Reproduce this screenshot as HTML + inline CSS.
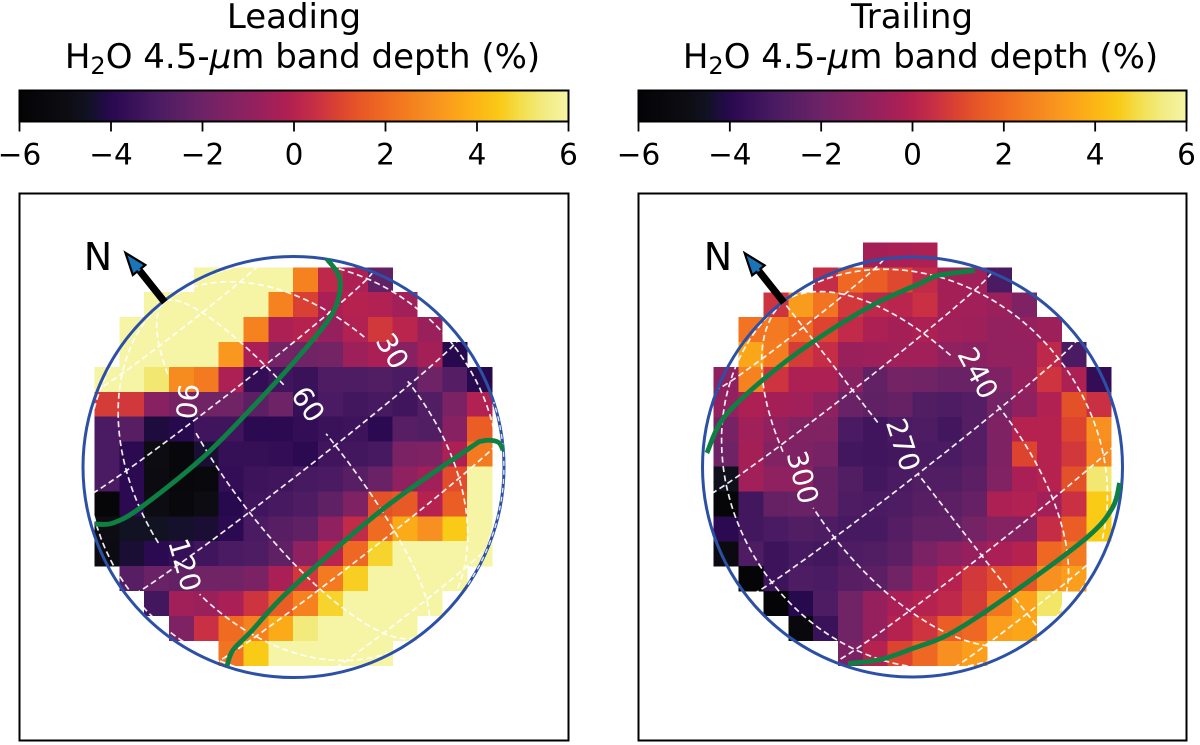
<!DOCTYPE html>
<html lang="en">
<head>
<meta charset="utf-8">
<title>H2O 4.5-micron band depth maps</title>
<style>
html,body{margin:0;padding:0;background:#fff;width:1200px;height:745px;overflow:hidden}
svg{display:block}
text{font-family:"DejaVu Sans","Liberation Sans",sans-serif}
</style>
</head>
<body>
<svg id="fig" width="1200" height="745" viewBox="0 0 1200 745" xmlns="http://www.w3.org/2000/svg">
  <rect x="0" y="0" width="1200" height="745" fill="#fff"/>
  <text x="294" y="28" font-size="34" text-anchor="middle" fill="#000">Leading</text>
  <text x="302.5" y="68" font-size="34" text-anchor="middle" fill="#000">H<tspan font-size="24" dy="6">2</tspan><tspan dy="-6">O 4.5-</tspan><tspan font-style="italic">μ</tspan>m band depth (%)</text>
  <text x="912" y="28" font-size="34" text-anchor="middle" fill="#000">Trailing</text>
  <text x="920.5" y="68" font-size="34" text-anchor="middle" fill="#000">H<tspan font-size="24" dy="6">2</tspan><tspan dy="-6">O 4.5-</tspan><tspan font-style="italic">μ</tspan>m band depth (%)</text>
  <defs>
    <linearGradient id="cbar-gradient" x1="0" x2="1" y1="0" y2="0"></linearGradient>
  </defs>
  <g id="leading-cbar"></g>
  <g id="trailing-cbar"></g>
  <g id="leading-panel"></g>
  <g id="trailing-panel"></g>
</svg>
<script>
// ---- colour scale ----
const cmapValues = [-6,-5,-4.5,-4.1,-3.9,-3,-2,-1,-0.3,0,0.5,1,1.5,2,2.5,3,3.5,4,4.5,5,5.5,6];
const cmapColors = ['#040406','#0d0c12','#111222','#230a48','#2c0a52','#4a1b62','#6d2366','#8f2160','#a91f56','#b5224f','#c93044','#dc4430','#e85a25','#f06b22','#f47e1f','#f79020','#fba21a','#fcb615','#f9ca16','#f3e050','#f2ec85','#f6f4a5'];
const colorbarTicks = [-6,-4,-2,0,2,4,6];

// ---- band depth per cell (%), null = no data ----
const leadingCells = [
[null,null,null,null,6,6,6,6,2.6,0.2,-0.2,-2.3,null,null,null,null],
[null,null,6,6,6,6,6,2.6,0.9,-0.3,0,-0.1,-0.5,null,null,null],
[null,6,6,6,6,6,2.6,-0.2,0,-0.8,-0.1,0.7,0.1,-0.7,null,null],
[null,6,6,6,6,3.2,-0.3,-1.8,-1.9,-1.8,-0.6,-0.3,-1.2,-0.4,-4,null],
[6,6,5.3,2.9,2.4,-0.2,-3.7,-3.3,-3.5,-2.9,-2.9,-2.8,-3,-2,-2.7,-4],
[0.8,0.7,-1.2,-1.7,-1.9,-1.9,-2.5,-2,-3.6,-3,-3.2,-3.1,-3.3,-2.8,-1.6,-0.1],
[-3,-2.6,-4.2,-4,-3.3,-3.3,-3.9,-3.9,-3.7,-3.5,-3.4,-3.9,-2.6,-2.8,-1.2,1.6],
[-3,-3.9,-5,-5.6,-4.3,-3.6,-3.6,-3.7,-3.9,-3.3,-3.2,-3.1,-1.6,-1.5,-0.2,2.4],
[-3,-3.9,-5.1,-5.6,-5.4,-3.7,-3.4,-3.3,-3.1,-3,-2.6,-2.1,-1,-0.5,1.2,6],
[-5.8,-3.9,-5,-5.5,-5,-4,-3.3,-3.1,-2.9,-2.4,-1.5,1.3,1.5,0,1.6,6],
[-5,-4.5,-4.5,-4.4,-4.3,-3.9,-3,-2.6,-2.4,-1,0.3,2,3.7,3,4.5,6],
[-5.1,-4.3,-3.9,-3.6,-3.3,-3,-2.9,-2.4,-1,0.1,1.9,4.7,6,6,6,6],
[null,-2.6,-2.1,-2.3,-1.9,-1.9,-1.6,-0.3,0.7,2.4,4.6,6,6,6,6,null],
[null,null,-3.2,-0.5,-0.7,-0.3,0.6,1.6,2.6,4.7,6,6,6,6,null,null],
[null,null,null,-1.5,0.5,2,2.6,3.7,5.4,6,6,6,6,null,null,null],
[null,null,null,null,null,2.2,4.5,6,6,6,6,6,null,null,null,null]
];
const trailingCells = [
[null,null,null,null,null,null,-0.4,-0.3,-0.2,null,null,null,null,null,null,null],
[null,null,null,null,0.4,1.9,1.6,1.1,0.3,-0.4,-0.5,-3,null,null,null,null],
[null,null,0.6,3.3,2.2,0.7,0.2,0.1,0.5,-0.4,-0.5,-0.7,-1.5,null,null,null],
[null,2.2,2.4,1.9,1,0.3,-0.2,-0.4,-0.2,-0.5,-0.6,-0.9,-0.8,-0.6,null,null],
[null,3.6,2.5,0.8,0.4,-0.7,-0.6,-0.5,-0.5,-1,-1.1,-0.9,-0.9,0.2,-3,null],
[-1,2.6,0.6,-0.2,-0.2,-1.2,-2.3,-1.8,-1.9,-2.1,-2.1,-1.5,-0.8,0.6,-0.2,-3.7],
[-0.9,-0.2,-0.4,-0.5,-1,-2.1,-2.4,-2.2,-2.8,-2.9,-2.7,-1.8,-1,-0.1,1.3,0.5],
[-1.7,-0.5,-1,-1.4,-1.4,-3,-3.3,-3,-2.9,-3.2,-2.7,-1.5,0,0,1,3],
[-2,-0.4,-1.4,-1.5,-1.7,-3.2,-3.3,-3.2,-3,-3,-2.7,-1.5,1,0,0.7,2.8],
[-4.7,-0.5,-1,-1,-2.2,-2.8,-3.2,-3,-2.8,-2.8,-2.5,-1.4,-0.3,0,1.3,5.3],
[-5.8,-3.2,-2.2,-2.1,-2.2,-2.9,-3,-2.9,-2.6,-2.5,-2.2,-0.2,-0.1,-0.5,0.5,4.5],
[-3.9,-3.2,-3,-2.8,-2.9,-3.1,-3.1,-2.7,-2.3,-2.3,-1.8,-1.3,-1.2,0.4,1.6,4.5],
[-5.2,-2.9,-3.4,-3.1,-3.2,-2.9,-2.8,-2.5,-1.6,-1.1,-0.8,-0.3,0,1.9,2.4,null],
[null,-5.9,-3.4,-2.9,-3,-2.6,-2.5,-1.9,-0.8,0,0.7,1.2,1.4,3,3.4,null],
[null,null,-5.9,-4,-2.9,-1.9,-0.8,-0.3,0,0.2,0.8,2.3,3.5,5.2,null,null],
[null,null,null,-5.5,-3.5,-1.9,-0.8,0,0.6,1.6,1.9,3.4,3.6,null,null,null],
[null,null,null,null,null,-1.6,0,1,1.9,3,3.4,null,null,null,null,null]
];

// ---- graticule ----
const latitudes = [-60,-30,0,30,60];
const leadingLongitudes = [0,30,60,90,120,150];
const trailingLongitudes = [180,210,240,270,300,330,360];
const leadingLabelLons = [30,60,90,120];
const leadingLabelAnchorLons = [26.7,58.6,87.6,116.7];
const leadingLabelLats = [10,13.4,36.2,-1];
const leadingLabelTurn = [59,56,95,74];
const trailingLabelLons = [240,270,300];
const trailingLabelAnchorLons = [238,268.3,297.9];
const trailingLabelLats = [11.3,8.8,18.6];
const trailingLabelTurn = [62,72,75];
const leadingLimbLon = -17.3;
const leadingLimbLats = [-72,-20];

// ---- green contours, in unit-disk coordinates (x right, y up) ----
const leadingContourAX = [0.159,0.221,0.188,0.031,-0.207,-0.444,-0.729,-0.857,-0.943];
const leadingContourAY = [0.988,0.888,0.736,0.532,0.271,0.033,-0.195,-0.266,-0.271];
const leadingContourBX = [0.995,0.971,0.900,0.824,0.420,-0.017,-0.200,-0.287,-0.316];
const leadingContourBY = [0.081,0.119,0.124,0.081,-0.204,-0.584,-0.780,-0.869,-0.945];
const trailingContourAX = [-0.979,-0.900,-0.715,-0.477,-0.192,0.036,0.121,0.297];
const trailingContourAY = [0.067,0.233,0.413,0.594,0.770,0.874,0.912,0.936];
const trailingContourBX = [0.986,0.952,0.829,0.477,0.188,-0.012,-0.154,-0.306];
const trailingContourBY = [-0.076,-0.195,-0.337,-0.599,-0.789,-0.869,-0.917,-0.936];

const NS = 'http://www.w3.org/2000/svg';
function mk(tag, parent, attrs){
  const e = document.createElementNS(NS, tag);
  for (const k in attrs) e.setAttribute(k, attrs[k]);
  parent.appendChild(e);
  return e;
}
function hexToRgb(h){ return [parseInt(h.slice(1,3),16),parseInt(h.slice(3,5),16),parseInt(h.slice(5,7),16)]; }
function colorScale(v){
  if (v <= cmapValues[0]) return cmapColors[0];
  for (let i = 1; i < cmapValues.length; i++){
    if (v <= cmapValues[i]){
      const t = (v - cmapValues[i-1])/(cmapValues[i]-cmapValues[i-1]);
      const a = hexToRgb(cmapColors[i-1]), b = hexToRgb(cmapColors[i]);
      return 'rgb(' + a.map((c,j)=>Math.round(c+(b[j]-c)*t)).join(',') + ')';
    }
  }
  return cmapColors[cmapColors.length-1];
}

// gradient
const grad = document.getElementById('cbar-gradient');
cmapValues.forEach(function(v,i){
  mk('stop', grad, {offset: ((v+6)/12).toFixed(4), 'stop-color': cmapColors[i]});
});

function drawColorbar(id, left, right){
  const g = document.getElementById(id);
  const sx = v => left + (v+6)/12*(right-left);
  const bar = mk('rect', g, {x:left,y:90.5,width:right-left,height:31,fill:'url(#cbar-gradient)',stroke:'#000','stroke-width':2});
  
  
  colorbarTicks.forEach(function(t){
    const tick = mk('line', g, {x1:sx(t),x2:sx(t),y1:121.5,y2:131.5,stroke:'#000','stroke-width':1.8});
    
    
    const label = mk('text', g, {x:sx(t),y:164.5,'font-size':29.5,'text-anchor':'middle',fill:'#000'});
    
    
    label.textContent = (t < 0 ? '\u2212' : '') + Math.abs(t);
  });
}

function smoothPath(pts){
  let d = 'M' + pts[0][0].toFixed(1) + ' ' + pts[0][1].toFixed(1);
  for (let i = 0; i < pts.length-1; i++){
    const p0 = pts[Math.max(i-1,0)], p1 = pts[i], p2 = pts[i+1], p3 = pts[Math.min(i+2,pts.length-1)];
    d += 'C' + (p1[0]+(p2[0]-p0[0])/6).toFixed(1) + ' ' + (p1[1]+(p2[1]-p0[1])/6).toFixed(1) + ' ' +
         (p2[0]-(p3[0]-p1[0])/6).toFixed(1) + ' ' + (p2[1]-(p3[1]-p1[1])/6).toFixed(1) + ' ' +
         p2[0].toFixed(1) + ' ' + p2[1].toFixed(1);
  }
  return d;
}

function drawPanel(cfg){
  const g = document.getElementById(cfg.id);
  const frame = mk('rect', g, {x:cfg.frameX,y:193.5,width:cfg.frameW,height:547,fill:'#fff',stroke:'#000','stroke-width':2});
  
  

  // axis functions
  const xCell = c => cfg.x0 + 24.85*c;
  const yCell = r => cfg.y0 + 24.9*r;
  const tilt = 38*Math.PI/180;
  const subLat = 2.4*Math.PI/180;
  const ux = Math.cos(tilt), uy = -Math.sin(tilt), vx = -Math.sin(tilt), vy = -Math.cos(tilt);
  const R = cfg.r;
  function project(lon, lat){
    const la = lat*Math.PI/180, d = (cfg.lon0-lon)*Math.PI/180;
    const u = R*Math.cos(la)*Math.sin(d);
    const v = R*(Math.sin(la)*Math.cos(subLat) - Math.cos(la)*Math.cos(d)*Math.sin(subLat));
    return [cfg.cx + u*ux + v*vx, cfg.cy + u*uy + v*vy];
  }
  const diskX = x => cfg.cx + x*R;
  const diskY = y => cfg.cy - y*R;

  // heatmap
  const hm = mk('g', g, {'shape-rendering':'crispEdges'});
  
  
  cfg.cells.forEach(function(row, r){
    row.forEach(function(v, c){
      if (v === null) return;
      const cell = mk('rect', hm, {x:xCell(c).toFixed(2),y:yCell(r).toFixed(2),width:25.1,height:25.1,fill:colorScale(v)});
      
      
    });
  });

  // label anchors (used to open gaps in the graticule)
  const anchors = cfg.labelAnchors.map((lon,i)=>project(lon, cfg.labelLats[i]));
  function polyline(pts){
    let d = '', pen = false;
    pts.forEach(function(p){
      const hidden = anchors.some(a => Math.hypot(a[0]-p[0], a[1]-p[1]) < 31);
      if (hidden) { pen = false; return; }
      d += (pen ? 'L' : 'M') + p[0].toFixed(1) + ' ' + p[1].toFixed(1);
      pen = true;
    });
    return d;
  }

  // graticule
  const grid = mk('g', g, {fill:'none',stroke:'#fff','stroke-width':1.7,'stroke-dasharray':'6 3.5','stroke-opacity':0.92});
  
  
  latitudes.forEach(function(lat){
    const pts = [];
    for (let d = -90; d <= 90; d += 5) pts.push(project(cfg.lon0+d, lat));
    const line = mk('path', grid, {d:'M'+pts.map(p=>p[0].toFixed(1)+' '+p[1].toFixed(1)).join('L')});
    
    
  });
  cfg.lons.forEach(function(lon){
    const pts = [];
    for (let lat = -90; lat <= 90; lat += 1) pts.push(project(lon, lat));
    const line = mk('path', grid, {d:polyline(pts)});
    
    
  });

  // limb
  const limb = mk('circle', g, {cx:cfg.cx,cy:cfg.cy,r:R,fill:'none',stroke:'#2b50a6','stroke-width':3});
  
  
  if (cfg.limbLon !== undefined){
    const pts = [];
    for (let lat = cfg.limbLats[0]; lat <= cfg.limbLats[1]; lat += 2) pts.push(project(cfg.limbLon, lat));
    const rim = mk('path', g, {d:'M'+pts.map(p=>p[0].toFixed(1)+' '+p[1].toFixed(1)).join('L'),fill:'none',stroke:'#fff','stroke-width':1.4,'stroke-dasharray':'5 4','stroke-opacity':0.85});
    
    
  }

  // contours
  cfg.contours.forEach(function(pair){
    const pts = pair[0].map((x,i)=>[diskX(x), diskY(pair[1][i])]);
    const path = mk('path', g, {d:smoothPath(pts),fill:'none',stroke:'#0e8043','stroke-width':4.8,'stroke-linecap':'butt'});
    
    
  });

  // longitude labels
  cfg.labelLons.forEach(function(lon,i){
    const p = anchors[i];
    const t = mk('text', g, {x:p[0].toFixed(1),y:p[1].toFixed(1),'font-size':28,'text-anchor':'middle','dominant-baseline':'central',fill:'#fff',
      transform:'rotate('+cfg.labelTurn[i]+' '+p[0].toFixed(1)+' '+p[1].toFixed(1)+')'});
    
    
    t.textContent = String(lon);
  });

  // north arrow
  const pole = project(cfg.lon0,90);
  const arrow = mk('g', g, {transform:'translate('+pole[0].toFixed(1)+' '+pole[1].toFixed(1)+') rotate(-38.5)'});
  
  
  mk('path', arrow, {d:'M-2.5 0L-2.5 -40L-8 -40L0 -62L8 -40L2.5 -40L2.5 0Z',fill:'#1a74b8',stroke:'#000','stroke-width':2.2,'stroke-linejoin':'miter'});
  mk('path', arrow, {d:'M-3.2 0L-3.2 -39L3.2 -39L3.2 0Z',fill:'#000',stroke:'none'});
  const north = mk('text', g, {x:cfg.nx,y:270,'font-size':38,'text-anchor':'middle',fill:'#000'});
  
  
  north.textContent = 'N';
}

drawColorbar('leading-cbar', 19.5, 568.5);
drawColorbar('trailing-cbar', 638.5, 1186.5);
drawPanel({id:'leading-panel',frameX:19.5,frameW:549,x0:94.4,y0:267.3,cx:293.5,cy:467,r:210.5,lon0:72.7,
  cells:leadingCells,lons:leadingLongitudes,labelLons:leadingLabelLons,labelAnchors:leadingLabelAnchorLons,labelLats:leadingLabelLats,labelTurn:leadingLabelTurn,
  limbLon:leadingLimbLon,limbLats:leadingLimbLats,
  contours:[[leadingContourAX,leadingContourAY],[leadingContourBX,leadingContourBY]],nx:98});
drawPanel({id:'trailing-panel',frameX:638.5,frameW:548,x0:713.7,y0:242.5,cx:912.5,cy:467,r:210,lon0:270,
  cells:trailingCells,lons:trailingLongitudes,labelLons:trailingLabelLons,labelAnchors:trailingLabelAnchorLons,labelLats:trailingLabelLats,labelTurn:trailingLabelTurn,
  contours:[[trailingContourAX,trailingContourAY],[trailingContourBX,trailingContourBY]],nx:718});
</script>
</body>
</html>
